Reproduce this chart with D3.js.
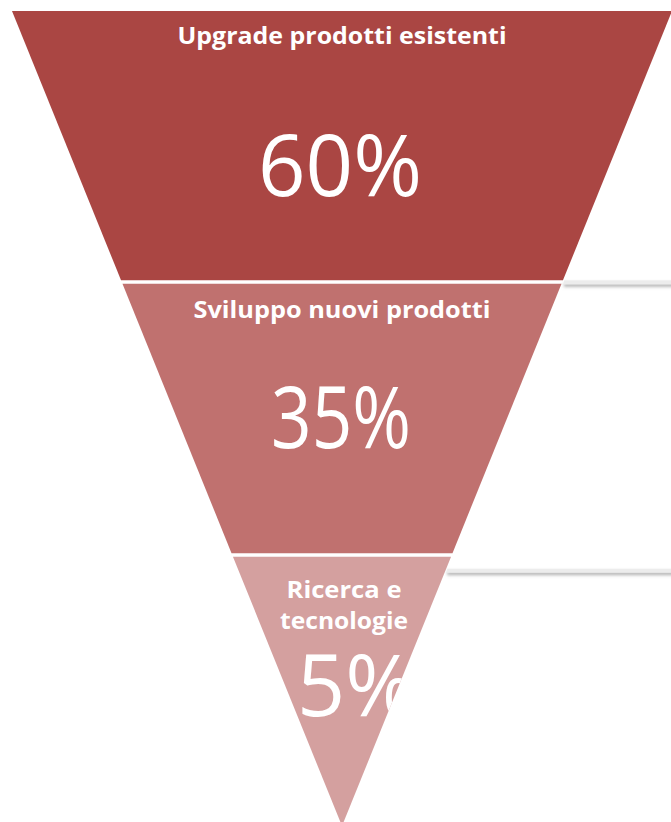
<!DOCTYPE html>
<html><head><meta charset="utf-8">
<script src="https://cdn.jsdelivr.net/npm/d3@7"></script>
<style>html,body{margin:0;padding:0;background:#fff;overflow:hidden}svg{display:block}</style>
</head><body><svg id="chart" width="671" height="822"></svg>
<script>
// ---- data ----
const categories = ["Upgrade prodotti esistenti", "Sviluppo nuovi prodotti", "Ricerca e tecnologie"];
const labelLines = [["Upgrade prodotti esistenti"], ["Sviluppo nuovi prodotti"], ["Ricerca e", "tecnologie"]];
const values = [60, 35, 5];
const valueLabels = ["60%", "35%", "5%"];
const colors = ["#AA4643", "#C0716F", "#D4A09F"];

// ---- layout ----
const W = 671, H = 822;
const topY = 11, apexY = 826, cx = 342, topHalf = 330;
const svg = d3.select("#chart");
const defs = svg.append("defs");

const y = d3.scaleBand().domain(categories).range([topY, apexY]).paddingInner(0.013).paddingOuter(0);
const half = d3.scaleLinear().domain([topY, apexY]).range([topHalf, 0]);

const rows = categories.map((c, i) => ({
  cat: c, lines: labelLines[i], value: values[i], label: valueLabels[i], color: colors[i],
  y0: y(c), y1: y(c) + y.bandwidth(), i
}));

function poly(d) {
  const p = [[cx - half(d.y0), d.y0], [cx + half(d.y0), d.y0], [cx + half(d.y1), d.y1], [cx - half(d.y1), d.y1]];
  return "M" + p.map(q => q.join(",")).join("L") + "Z";
}

// shadow filter for gray connector lines
const f = defs.append("filter").attr("id", "sh").attr("x", "-5%").attr("y", "-200%").attr("width", "110%").attr("height", "500%");
f.append("feDropShadow").attr("dx", 0).attr("dy", 2.5).attr("stdDeviation", 1.4).attr("flood-color", "#777").attr("flood-opacity", 0.55);

rows.forEach(d => {
  defs.append("clipPath").attr("id", "clip" + d.i).append("path").attr("d", poly(d));
});

const g = svg.selectAll("g.seg").data(rows).join("g").attr("class", "seg");
g.append("path").attr("d", poly).attr("fill", d => d.color);

// connector lines to the right
const connY = [rows[1].y0 - 3.5, rows[2].y0 + 12];
svg.selectAll("rect.conn").data(connY).join("rect").attr("class", "conn")
  .attr("x", v => cx + half(v) + 1).attr("y", v => v)
  .attr("width", v => W - (cx + half(v) + 1) + 10).attr("height", 4)
  .attr("fill", "#ececec").attr("filter", "url(#sh)");

// category labels
const labelBase = [44, 318, 598];
const labelWidths = [[329], [297], [115, 128]];
g.each(function(d) {
  const sel = d3.select(this);
  d.lines.forEach((ln, j) => {
    sel.append("text")
      .attr("x", d.i === 2 ? cx + 2 : cx)
      .attr("y", labelBase[d.i] + j * 30.5)
      .attr("text-anchor", "middle")
      .attr("font-family", "'Open Sans', sans-serif")
      .attr("font-weight", 700)
      .attr("font-size", 23)
      .attr("textLength", labelWidths[d.i][j])
      .attr("lengthAdjust", "spacingAndGlyphs")
      .attr("fill", "#fff")
      .text(ln);
  });
});

// value labels
const valBase = [196, 448, 716];
const valWidths = [164, 140, 118];
const valX = [cx - 2, cx - 1, 297 + 59];
g.append("text")
  .attr("clip-path", d => `url(#clip${d.i})`)
  .attr("x", d => valX[d.i])
  .attr("y", d => valBase[d.i])
  .attr("text-anchor", "middle")
  .attr("font-family", "'Open Sans', sans-serif")
  .attr("font-weight", 400)
  .attr("font-size", 86)
  .attr("textLength", d => valWidths[d.i])
  .attr("lengthAdjust", "spacingAndGlyphs")
  .attr("fill", "#fff")
  .text(d => d.label);
</script>
</body></html>
